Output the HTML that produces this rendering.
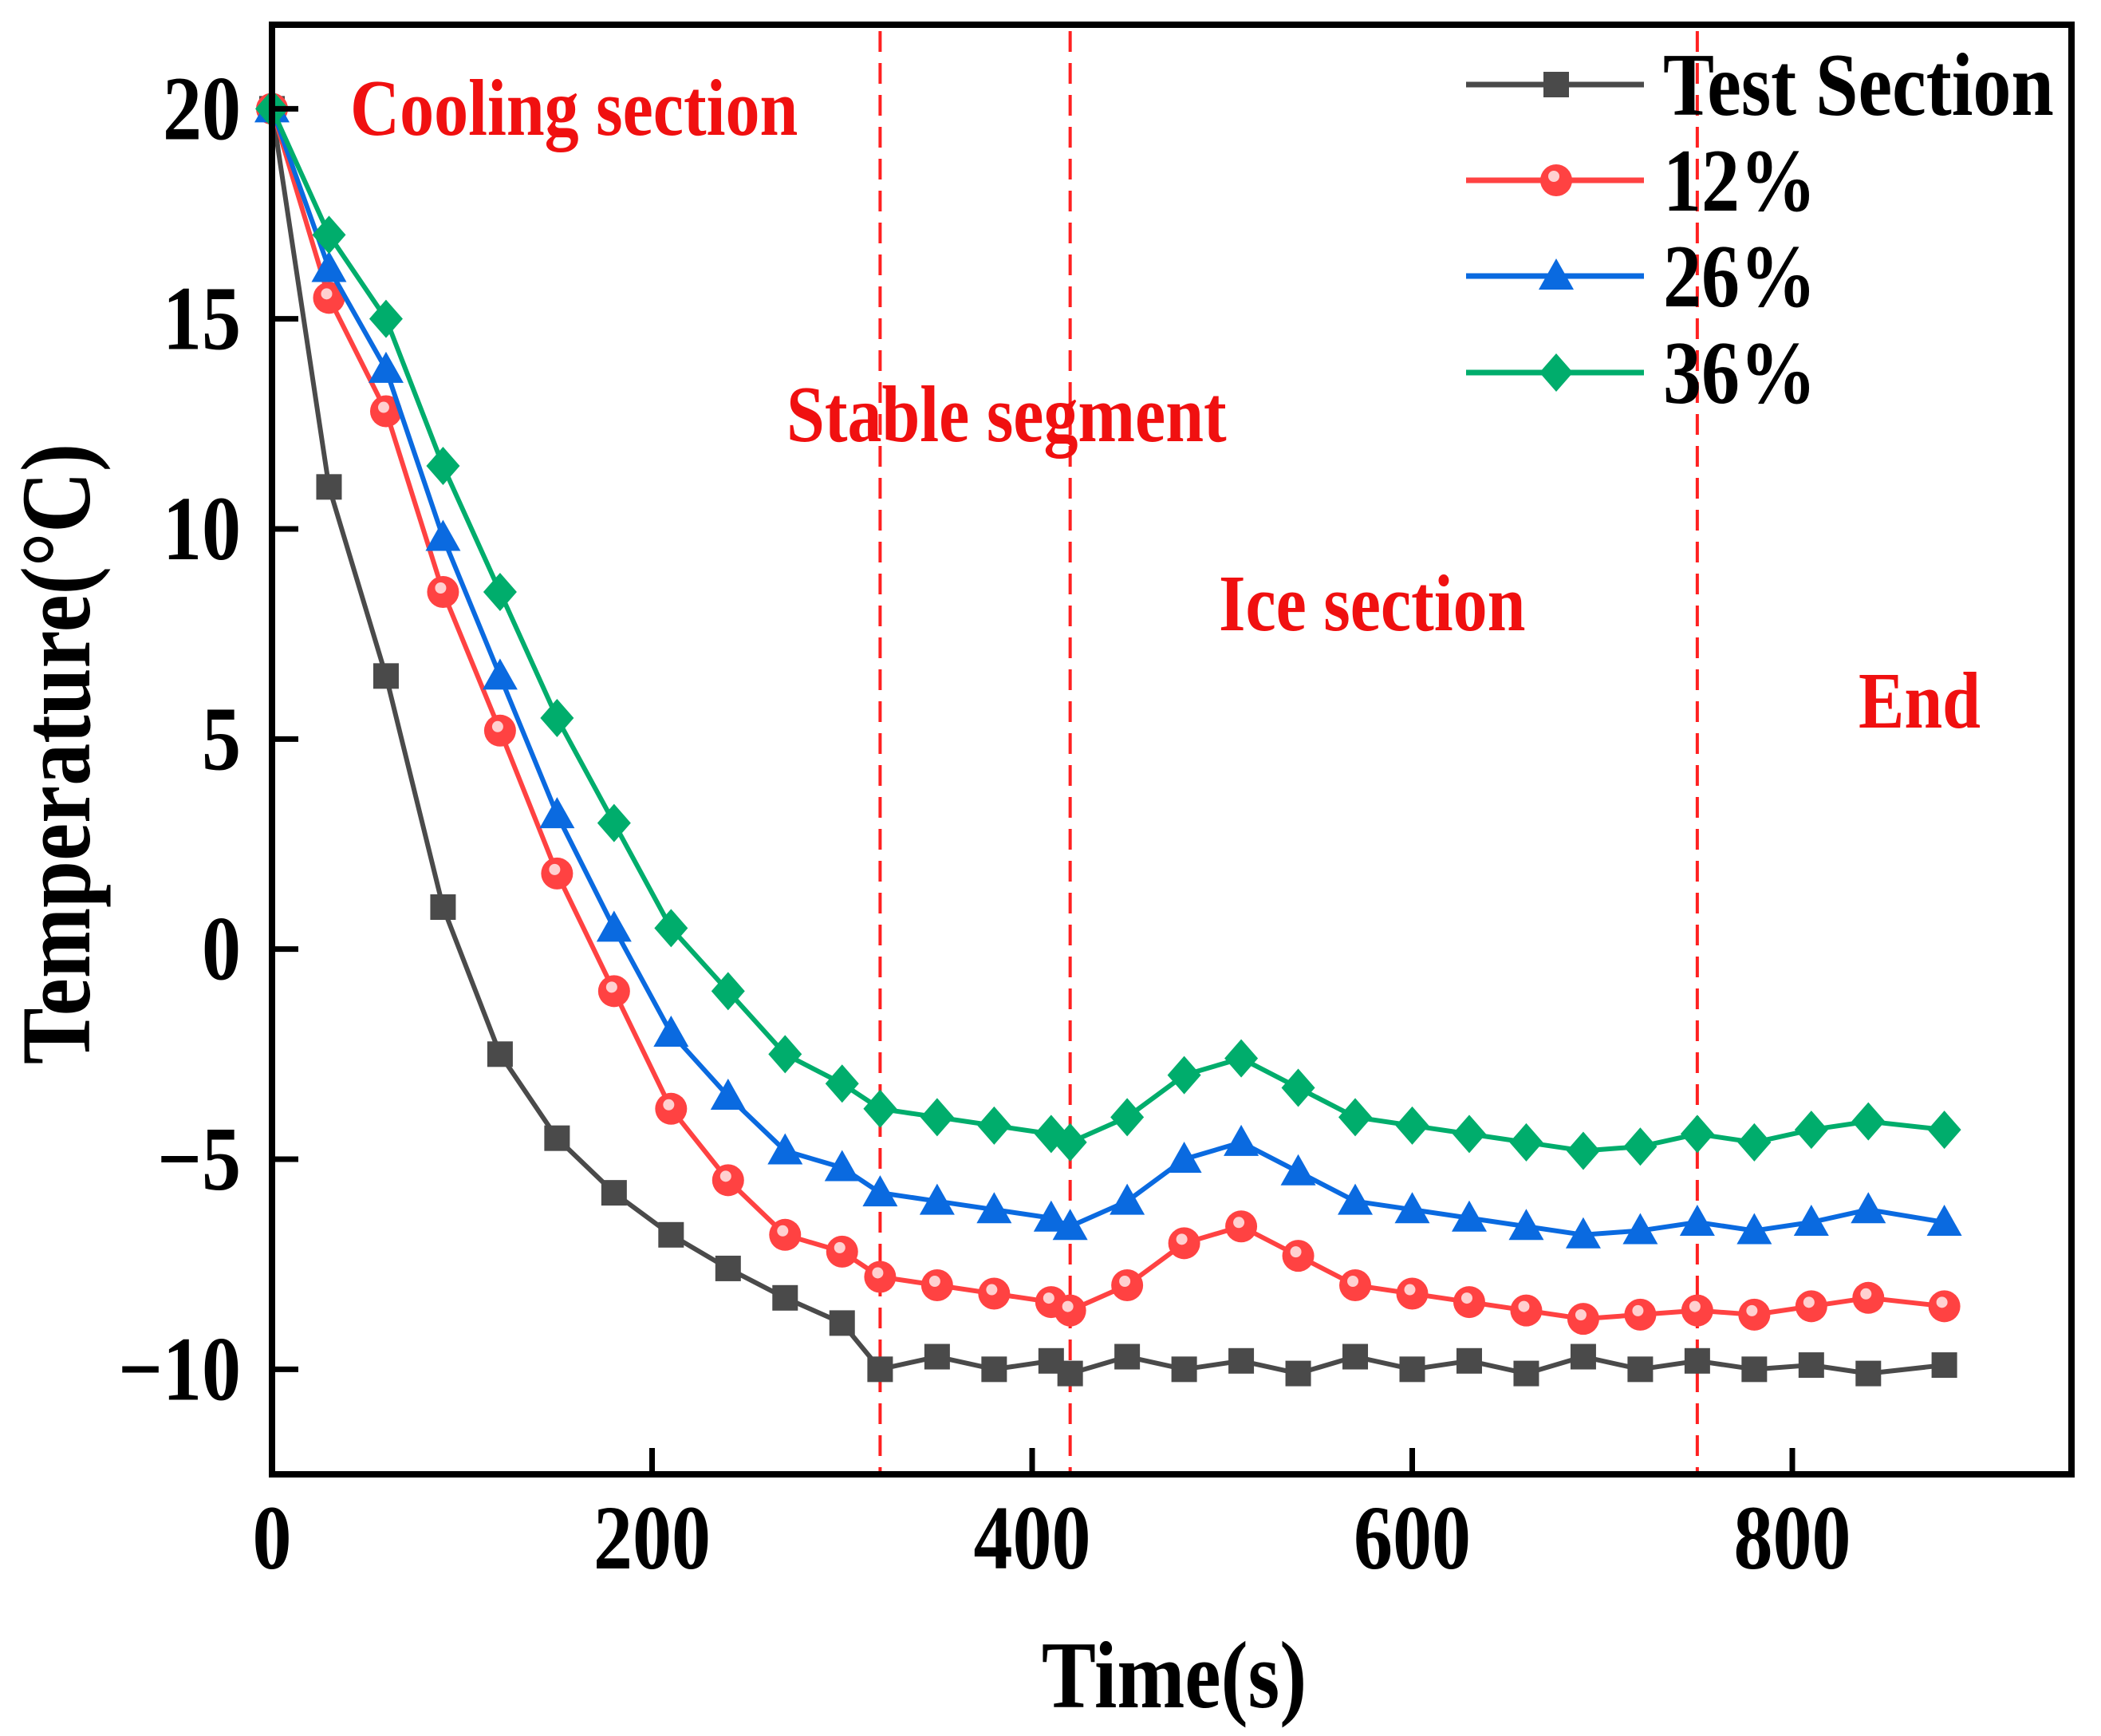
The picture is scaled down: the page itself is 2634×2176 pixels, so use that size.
<!DOCTYPE html>
<html><head><meta charset="utf-8"><style>
html,body{margin:0;padding:0;background:#fff;}
svg{display:block;}
text{font-family:"Liberation Serif",serif;font-weight:bold;}
</style></head><body>
<svg id="chart" width="2634" height="2176" viewBox="0 0 2634 2176">
<g id="marks"></g>
</svg>
<script>
const times = [0,30,60,90,120,150,180,210,240,270,300,320,350,380,410,420,450,480,510,540,570,600,630,660,690,720,750,780,810,840,880];
const testSection = [20,11,6.5,1,-2.5,-4.5,-5.8,-6.8,-7.6,-8.3,-8.9,-10,-9.7,-10,-9.8,-10.1,-9.7,-10,-9.8,-10.1,-9.7,-10,-9.8,-10.1,-9.7,-10,-9.8,-10,-9.9,-10.1,-9.9];
const pct12 = [20,15.5,12.8,8.5,5.2,1.8,-1,-3.8,-5.5,-6.8,-7.2,-7.8,-8,-8.2,-8.4,-8.6,-8,-7,-6.6,-7.3,-8,-8.2,-8.4,-8.6,-8.8,-8.7,-8.6,-8.7,-8.5,-8.3,-8.5];
const pct26 = [20,16.2,13.8,9.8,6.5,3.2,0.5,-2,-3.5,-4.8,-5.2,-5.8,-6,-6.2,-6.4,-6.6,-6,-5,-4.6,-5.3,-6,-6.2,-6.4,-6.6,-6.8,-6.7,-6.5,-6.7,-6.5,-6.2,-6.5];
const pct36 = [20,17,15,11.5,8.5,5.5,3,0.5,-1,-2.5,-3.2,-3.8,-4,-4.2,-4.4,-4.6,-4,-3,-2.6,-3.3,-4,-4.2,-4.4,-4.6,-4.8,-4.7,-4.4,-4.6,-4.3,-4.1,-4.3];
const xTicks = [0,200,400,600,800];
const yTicks = [-10,-5,0,5,10,15,20];
const dividers = [320,420,750];
const legendNames = ["Test Section","12%","26%","36%"];

const NS="http://www.w3.org/2000/svg";
const L=341,R=2597,T=31,B=1848;
const xMin=0,xMax=(R-L)/2.3825, yMin=-12.5,yMax=22;
const X=v=>L+(v-xMin)/(xMax-xMin)*(R-L);
const Y=v=>B-(v-yMin)/(yMax-yMin)*(B-T);
const svg=document.getElementById('marks');
function mk(tag,attrs,parent){const e=document.createElementNS(NS,tag);for(const k in attrs)e.setAttribute(k,attrs[k]);(parent||svg).appendChild(e);return e;}
const SY=1.17;
function txt(str,x,y,size,anchor,fill,parent){
  const t=mk('text',{x:0,y:0,'font-size':size,'text-anchor':anchor,fill:fill,transform:`translate(${x},${y}) scale(1,${SY})`},parent);
  t.textContent=str;return t;
}

dividers.forEach((d,i)=>{
  const l=mk('line',{x1:X(d),x2:X(d),y1:T+8,y2:B-4,stroke:'#ff2020','stroke-width':4,'stroke-dasharray':'26 14'});
  
  
});

const ann=[["Cooling section",439,169],["Stable segment",986,553],["Ice section",1528,790],["End",2330,912]];
ann.forEach(a=>{
  const t=txt(a[0],a[1],a[2],86,'start','#f01010');
  
  
});

const series=[
  {vals:testSection,color:'#4a4a4a',shape:'square'},
  {vals:pct12,color:'#ff4242',shape:'circle'},
  {vals:pct26,color:'#0a6ae0',shape:'triangle'},
  {vals:pct36,color:'#00ad6c',shape:'diamond'}
];
function marker(shape,cx,cy,color,g){
  let e;
  if(shape==='square') e=mk('rect',{x:cx-16,y:cy-16,width:32,height:32,fill:color},g);
  else if(shape==='circle'){e=mk('circle',{cx:cx,cy:cy,r:20,fill:color},g);mk('circle',{cx:cx-3,cy:cy-5,r:7,fill:'#ffd0d0'},g);}
  else if(shape==='triangle') e=mk('polygon',{points:`${cx},${cy-22} ${cx+22},${cy+17} ${cx-22},${cy+17}`,fill:color},g);
  else e=mk('polygon',{points:`${cx},${cy-24} ${cx+21},${cy} ${cx},${cy+24} ${cx-21},${cy}`,fill:color},g);
  return e;
}
series.forEach((s,si)=>{
  const g=mk('g',{});
  
  
  const pts=times.map((t,i)=>X(t)+','+Y(s.vals[i])).join(' ');
  const pl=mk('polyline',{points:pts,fill:'none',stroke:s.color,'stroke-width':6,'stroke-linejoin':'round'},g);
  
  
  times.forEach((t,i)=>{
    const m=marker(s.shape,X(t),Y(s.vals[i]),s.color,g);
    
    
  });
});

const fr=mk('rect',{x:L,y:T,width:R-L,height:B-T,fill:'none',stroke:'#000','stroke-width':8});


xTicks.forEach(v=>{
  const tk=mk('line',{x1:X(v),x2:X(v),y1:B,y2:B-33,stroke:'#000','stroke-width':7});
  
  
  const t=txt(String(v),X(v),1966,98,'middle','#000');
  
  
});
yTicks.forEach(v=>{
  const tk=mk('line',{x1:L,x2:L+33,y1:Y(v),y2:Y(v),stroke:'#000','stroke-width':7});
  
  
  const t=txt(v<0?'\u2212'+Math.abs(v):String(v),302,Y(v)+38,98,'end','#000');
  
  
});

const xt=txt('Time(s)',1472,2140,102,'middle','#000');


const yt=mk('text',{x:0,y:0,'font-size':106,'text-anchor':'middle',fill:'#000',transform:`translate(112,945) rotate(-90) scale(1,${SY})`});
yt.textContent='Temperature(\u00B0C)';



const legY=[106,226,346,467];
const lg=mk('g',{});


series.forEach((s,i)=>{
  const e=mk('g',{},lg);
  
  
  mk('line',{x1:1838,x2:2061,y1:legY[i],y2:legY[i],stroke:s.color,'stroke-width':7},e);
  marker(s.shape,1951,legY[i],s.color,e);
  txt(legendNames[i],2085,legY[i]+38,96,'start','#000',e);
});
</script>
</body></html>
